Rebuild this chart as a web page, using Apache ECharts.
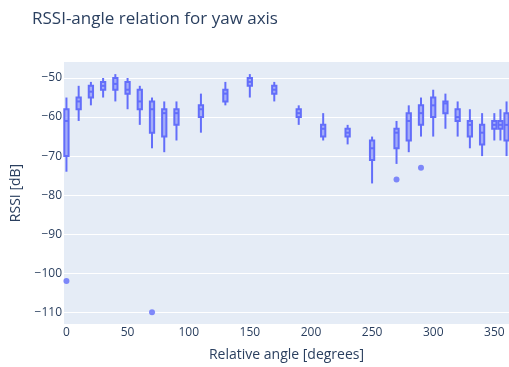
<!DOCTYPE html>
<html>
<head>
<meta charset="utf-8">
<script src="https://cdn.jsdelivr.net/npm/echarts@6/dist/echarts.min.js"></script>
<style>html,body{margin:0;padding:0;background:#fff}#c{width:509px;height:367px}</style>
</head>
<body>
<div id="c"></div>
<script>
const angles      = [0, 10, 20, 30, 40, 50, 60, 70, 80, 90, 110, 130, 150, 170, 190, 210, 230, 250, 270, 280, 290, 300, 310, 320, 330, 340, 350, 355, 360];
const whiskerLow  = [-74, -61, -57, -55, -56, -58, -62, -68, -69, -66, -64, -57, -55, -56, -62, -66, -67, -77, -72, -69, -65, -65, -63, -65, -68, -70, -66, -66, -70];
const q1          = [-70, -58, -55, -53, -53, -54, -58, -64, -65, -62, -60, -56, -52, -54, -60, -65, -65, -71, -68, -66, -62, -60, -59, -61, -65, -67, -63, -63, -66];
const median      = [-61, -56, -53.5, -52, -51.5, -53, -56, -58, -59, -59, -58, -54, -51, -53, -59, -63, -64, -68, -64, -61, -59, -57, -56.5, -60, -62, -64, -62, -62, -62];
const q3          = [-58, -55, -52, -51, -50, -51, -53, -56, -58, -58, -57, -53, -50, -52, -58, -62, -63, -66, -63, -59, -57, -55, -56, -58, -61, -62, -61, -61, -59];
const whiskerHigh = [-55, -52, -51, -50, -49, -50, -52, -55, -56, -56, -54, -51, -49, -51, -57, -59, -62, -65, -61, -57, -55, -53, -54, -56, -58, -59, -59, -58, -56];
const outlierAngles = [0, 70, 270, 290];
const outlierValues = [-102, -110, -76, -73];
const xTicks = [0, 50, 100, 150, 200, 250, 300, 350];
const yTicks = [-110, -100, -90, -80, -70, -60, -50];

const boxColor = '#636EFA';
const textColor = '#2a3f5f';
const font = '"Open Sans", Verdana, Arial, sans-serif';
const boxSpan = 3.5; // degrees

const boxData = angles.map((a, i) => [a, whiskerLow[i], q1[i], median[i], q3[i], whiskerHigh[i]]);
const outData = outlierAngles.map((a, i) => [a, outlierValues[i]]);
const minus = v => String(v).replace('-', '\u2212');

const chart = echarts.init(document.getElementById('c'), null, {renderer: 'canvas'});
chart.setOption({
  animation: false,
  backgroundColor: '#fff',
  title: {
    text: 'RSSI-angle relation for yaw axis',
    left: 27, top: 6,
    textStyle: {fontFamily: font, fontSize: 17, fontWeight: 'normal', color: textColor}
  },
  grid: {left: 64, right: 0, top: 62, bottom: 42, show: true, backgroundColor: '#E5ECF6', borderWidth: 0},
  xAxis: {
    type: 'value', min: -2, max: 362,
    name: 'Relative angle [degrees]', nameLocation: 'middle', nameGap: 24,
    nameTextStyle: {fontFamily: font, fontSize: 14, color: textColor},
    axisLine: {show: false}, axisTick: {show: false, customValues: xTicks},
    splitLine: {show: false},
    axisLabel: {customValues: xTicks, margin: 3, fontFamily: font, fontSize: 12, color: textColor, formatter: minus}
  },
  yAxis: {
    type: 'value', min: -113, max: -45.9,
    name: 'RSSI [dB]', nameLocation: 'middle', nameGap: 41,
    nameTextStyle: {fontFamily: font, fontSize: 14, color: textColor},
    axisLine: {show: false}, axisTick: {show: false, customValues: yTicks},
    splitLine: {show: true, lineStyle: {color: '#fff', width: 1}},
    axisLabel: {customValues: yTicks, margin: 2, fontFamily: font, fontSize: 12, color: textColor, formatter: minus}
  },
  series: [
    {
      type: 'custom',
      data: boxData,
      renderItem: function (params, api) {
        const x = api.value(0);
        const w = api.size([boxSpan, 0])[0];
        const pLow = api.coord([x, api.value(1)]);
        const pQ1 = api.coord([x, api.value(2)]);
        const pMed = api.coord([x, api.value(3)]);
        const pQ3 = api.coord([x, api.value(4)]);
        const pHigh = api.coord([x, api.value(5)]);
        const cx = pQ1[0];
        const stroke = {stroke: boxColor, lineWidth: 2};
        return {
          type: 'group',
          children: [
            {type: 'line', shape: {x1: cx, y1: pQ1[1], x2: cx, y2: pLow[1]}, style: stroke},
            {type: 'line', shape: {x1: cx, y1: pQ3[1], x2: cx, y2: pHigh[1]}, style: stroke},
            {type: 'rect', shape: {x: cx - w / 2, y: pQ3[1], width: w, height: pQ1[1] - pQ3[1]},
              style: {fill: 'rgba(99,110,250,0.5)', stroke: boxColor, lineWidth: 2}},
            {type: 'line', shape: {x1: cx - w / 2, y1: pMed[1], x2: cx + w / 2, y2: pMed[1]}, style: stroke}
          ]
        };
      }
    },
    {
      type: 'scatter',
      data: outData,
      symbol: 'circle', symbolSize: 6,
      itemStyle: {color: boxColor}
    }
  ]
});
</script>
</body>
</html>
